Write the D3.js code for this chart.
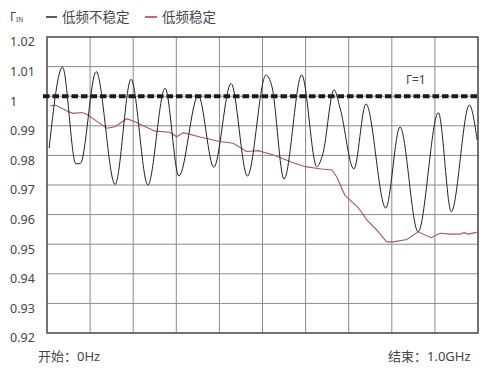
<!DOCTYPE html>
<html>
<head>
<meta charset="utf-8">
<script src="https://cdn.jsdelivr.net/npm/d3@7"></script>
<style>
  body { margin: 0; background: #fff; }
  text { font-family: "Noto Sans", "Noto Sans CJK SC", sans-serif; fill: #444; }
</style>
</head>
<body>
<div id="chart"></div>
<script>
// frequency in GHz, Γin values
var freqUnstable = [0.005, 0.036, 0.067, 0.077, 0.114, 0.158, 0.195, 0.234, 0.274, 0.306,
  0.351, 0.387, 0.427, 0.465, 0.508, 0.522, 0.550, 0.591, 0.626, 0.640, 0.666, 0.680,
  0.712, 0.740, 0.786, 0.819, 0.861, 0.908, 0.938, 0.980, 0.998];
var gammaUnstable = [0.9825, 1.0098, 0.9772, 0.9772, 1.0083, 0.9702, 1.0057, 0.9700, 1.0027, 0.9730,
  1.0002, 0.9760, 1.0043, 0.9730, 1.0071, 1.0032, 0.9720, 1.0072, 0.9762, 0.9805, 1.0022, 0.9960,
  0.9754, 0.9974, 0.9622, 0.9896, 0.9542, 0.9944, 0.9610, 0.9970, 0.9852];

var freqStable = [0.007, 0.019, 0.049, 0.061, 0.081, 0.092, 0.111, 0.139, 0.158, 0.185,
  0.204, 0.227, 0.251, 0.285, 0.301, 0.316, 0.355, 0.401, 0.432, 0.463, 0.490, 0.529,
  0.568, 0.599, 0.637, 0.661, 0.672, 0.691, 0.707, 0.722, 0.742, 0.765, 0.788, 0.803,
  0.835, 0.861, 0.891, 0.912, 0.935, 0.958, 0.968, 0.977, 0.997];
var gammaStable = [0.9967, 0.9970, 0.9948, 0.9942, 0.9945, 0.9939, 0.9920, 0.9892, 0.9897, 0.9924,
  0.9914, 0.9898, 0.9882, 0.9878, 0.9863, 0.9877, 0.9862, 0.9847, 0.9841, 0.9813, 0.9816, 0.9800,
  0.9777, 0.9762, 0.9754, 0.9751, 0.9728, 0.9666, 0.9644, 0.9624, 0.9582, 0.9548, 0.9508, 0.9508,
  0.9516, 0.9542, 0.9522, 0.9537, 0.9534, 0.9534, 0.9539, 0.9534, 0.9540];

var yTicks = [0.92, 0.93, 0.94, 0.95, 0.96, 0.97, 0.98, 0.99, 1.00, 1.01, 1.02];
var yTickLabels = ["0.92", "0.93", "0.94", "0.95", "0.96", "0.97", "0.98", "0.99", "1", "1.01", "1.02"];
var xGrid = [0, 0.1, 0.2, 0.3, 0.4, 0.5, 0.6, 0.7, 0.8, 0.9, 1.0];
var refLevel = 1;

var width = 500, height = 374;
var margin = {top: 37, right: 22, bottom: 41, left: 47};

var svg = d3.select("#chart").append("svg")
  .attr("width", width)
  .attr("height", height);

var x = d3.scaleLinear().domain([0, 1]).range([margin.left, width - margin.right]);
var y = d3.scaleLinear().domain([0.92, 1.02]).range([height - margin.bottom, margin.top]);

// grid
svg.append("g")
  .selectAll("line.h")
  .data(yTicks)
  .enter().append("line")
  .attr("x1", x(0)).attr("x2", x(1))
  .attr("y1", function (d) { return y(d); })
  .attr("y2", function (d) { return y(d); })
  .attr("stroke", "#8a8a8a")
  .attr("stroke-width", 1);

svg.append("g")
  .selectAll("line.v")
  .data(xGrid)
  .enter().append("line")
  .attr("x1", function (d) { return x(d); })
  .attr("x2", function (d) { return x(d); })
  .attr("y1", y(0.92)).attr("y2", y(1.02))
  .attr("stroke", "#8a8a8a")
  .attr("stroke-width", 1);

// frame
svg.append("rect")
  .attr("x", x(0)).attr("y", y(1.02))
  .attr("width", x(1) - x(0))
  .attr("height", y(0.92) - y(1.02))
  .attr("fill", "none")
  .attr("stroke", "#555")
  .attr("stroke-width", 1.5);

// y labels
svg.append("g")
  .selectAll("text")
  .data(yTicks)
  .enter().append("text")
  .attr("x", 10)
  .attr("y", function (d) { return y(d) + 5; })
  .attr("dy", "0.35em")
  .attr("font-size", 12.5)
  .text(function (d, i) { return yTickLabels[i]; });

// Γ=1 reference
svg.append("line")
  .attr("x1", x(0) - 4).attr("x2", x(1))
  .attr("y1", y(refLevel)).attr("y2", y(refLevel))
  .attr("stroke", "#1e1a18")
  .attr("stroke-width", 4)
  .attr("stroke-dasharray", "6.5,3");

svg.append("text")
  .attr("x", 406).attr("y", y(refLevel) - 12)
  .attr("font-size", 12)
  .attr("fill", "#333")
  .text("Γ=1");

var lineUnstable = d3.line()
  .x(function (d, i) { return x(freqUnstable[i]); })
  .y(function (d) { return y(d); })
  .curve(d3.curveMonotoneX);

var lineStable = d3.line()
  .x(function (d, i) { return x(freqStable[i]); })
  .y(function (d) { return y(d); });

svg.append("path")
  .datum(gammaStable)
  .attr("d", lineStable)
  .attr("fill", "none")
  .attr("stroke", "#a4566f")
  .attr("stroke-width", 1.1);

svg.append("path")
  .datum(gammaUnstable)
  .attr("d", lineUnstable)
  .attr("fill", "none")
  .attr("stroke", "#222")
  .attr("stroke-width", 1);

// legend
var lg = svg.append("g");
var gin = lg.append("text").attr("x", 10).attr("y", 21).attr("font-size", 12);
gin.append("tspan").text("Γ");
gin.append("tspan").attr("font-size", 6.5).attr("dy", 1).text("IN");

lg.append("line").attr("x1", 46).attr("x2", 57).attr("y1", 17).attr("y2", 17)
  .attr("stroke", "#222").attr("stroke-width", 1.5);
lg.append("text").attr("x", 62).attr("y", 22).attr("font-size", 13.5).text("低频不稳定");
lg.append("line").attr("x1", 145).attr("x2", 157).attr("y1", 17).attr("y2", 17)
  .attr("stroke", "#c0304a").attr("stroke-width", 1.5);
lg.append("text").attr("x", 162).attr("y", 22).attr("font-size", 13.5).text("低频稳定");

// start / stop
svg.append("text").attr("x", 38).attr("y", 361).attr("font-size", 13).text("开始：0Hz");
svg.append("text").attr("x", 388).attr("y", 361).attr("font-size", 13).text("结束：1.0GHz");
</script>
</body>
</html>
